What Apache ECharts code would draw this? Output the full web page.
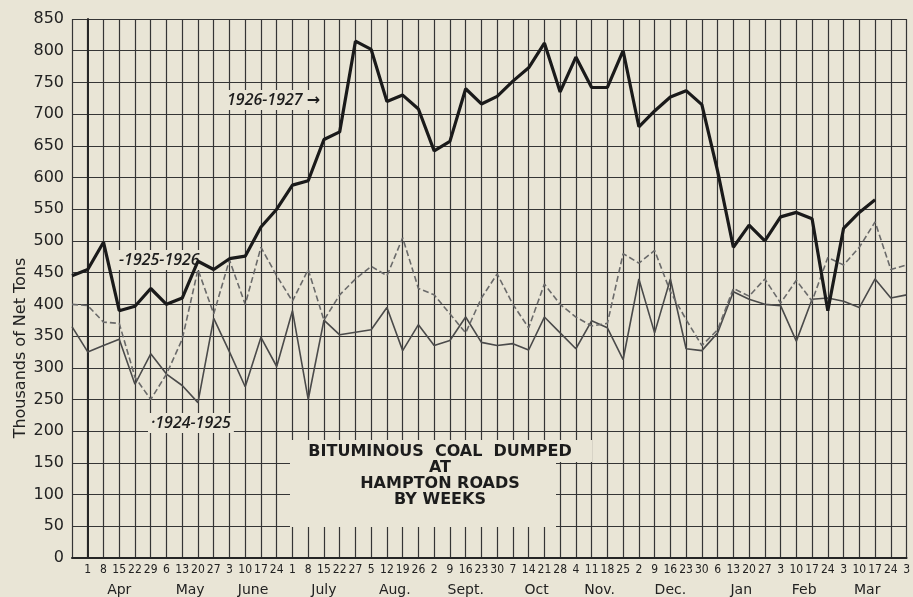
<!DOCTYPE html>
<html>
<head>
<meta charset="utf-8">
<script src="https://cdn.jsdelivr.net/npm/echarts@6/dist/echarts.min.js"></script>
<style>
  html, body { margin: 0; padding: 0; background: #e9e5d6; }
  #chart { width: 913px; height: 597px; }
</style>
</head>
<body>
<div id="chart"></div>
<script>
// week-ending day labels, Apr 1 1926 .. Apr 3 1927 (printed as on the original)
const weekDays = ['1','8','15','22','29','6','13','20','27','3','10','17','24',
  '1','8','15','22','27','5','12','19','26','2','9','16','23','30',
  '7','14','21','28','4','11','18','25','2','9','16','23','30',
  '6','13','20','27','3','10','17','24','3','10','17','24','3']
const monthNames = ['Apr','May','June','July','Aug.','Sept.','Oct','Nov.','Dec.','Jan','Feb','Mar']
const monthWeeks = [5, 4, 4, 5, 4, 5, 4, 4, 5, 4, 4, 4]

// thousands of net tons; first value sits on the y axis (week before Apr 1)
const s1926 = [445, 455, 498, 390, 397, 425, 400, 410, 468, 455, 472, 476, 522, 550,
  588, 595, 660, 672, 815, 802, 720, 730, 708, 642, 657, 740, 716, 728,
  752, 773, 812, 735, 790, 742, 742, 800, 680, 705, 727, 737, 715, 610,
  490, 525, 500, 538, 545, 535, 390, 520, 545, 565, null, null]
const s1925 = [400, 398, 372, 370, 285, 250, 290, 345, 455, 385, 470, 400, 490, 445,
  405, 455, 375, 415, 440, 460, 445, 505, 425, 415, 385, 355, 410, 448,
  400, 363, 432, 400, 380, 366, 370, 480, 465, 485, 420, 376, 335, 360,
  425, 413, 440, 402, 438, 405, 474, 462, 490, 530, 455, 462]
const s1924 = [365, 325, 335, 345, 274, 322, 290, 272, 245, 378, 325, 270, 348, 302,
  390, 250, 375, 352, 356, 360, 395, 327, 368, 335, 343, 380, 340, 335,
  338, 328, 380, 355, 330, 374, 363, 313, 440, 355, 440, 330, 327, 355,
  420, 408, 400, 398, 342, 408, 410, 405, 395, 440, 410, 415]

const bg = '#e9e5d6'
const ink = '#262626'
const gridInk = '#353535'

const toPoints = arr => arr.map((v, i) => [i - 1, v])

// centre of each month's group of weeks, in week-index units
const monthCenters = []
let start = 0
monthWeeks.forEach(n => {
  monthCenters.push(start + (n - 1) / 2)
  start += n
})

const chart = echarts.init(document.getElementById('chart'))

const labelFont = 'italic 600 16px "Open Sans", "DejaVu Sans", sans-serif'
const roundFont = '"DejaVu Sans", Lato, sans-serif'

const option = {
  backgroundColor: bg,
  animation: false,
  grid: { left: 72, right: 6, top: 19, bottom: 37 },
  xAxis: [
    {
      type: 'value',
      min: -1,
      max: 52,
      interval: 1,
      axisLine: { show: true, lineStyle: { color: ink, width: 2 } },
      axisTick: { show: false },
      splitLine: { show: true, lineStyle: { color: gridInk, width: 1.2 } },
      axisLabel: {
        margin: 6,
        color: '#222',
        fontSize: 12,
        fontFamily: '"Liberation Sans Narrow", "DejaVu Sans Condensed", "Roboto Condensed", Roboto, sans-serif',
        showMinLabel: true,
        showMaxLabel: true,
        formatter: v => (v < 0 ? '' : weekDays[v] || '')
      }
    },
    {
      type: 'value',
      min: -1,
      max: 52,
      position: 'bottom',
      offset: 17,
      axisLine: { show: false },
      axisTick: { show: false },
      splitLine: { show: false },
      axisLabel: {
        customValues: monthCenters,
        color: '#222',
        fontSize: 14,
        fontFamily: roundFont,
        formatter: v => monthNames[monthCenters.indexOf(v)] || ''
      }
    }
  ],
  yAxis: {
    type: 'value',
    min: 0,
    max: 850,
    interval: 50,
    axisLine: { show: true, lineStyle: { color: ink, width: 2 } },
    axisTick: { show: false },
    splitLine: { show: true, lineStyle: { color: gridInk, width: 1.2 } },
    axisLabel: {
      margin: 8,
      color: '#222',
      fontSize: 16,
      fontFamily: roundFont
    }
  },
  graphic: [
    {
      type: 'text', x: 21, y: 348, rotation: Math.PI / 2, z: 5,
      style: { text: 'Thousands of Net Tons', align: 'center', verticalAlign: 'middle',
        fill: '#222', font: '16px "DejaVu Sans", Lato, sans-serif' }
    },
    { type: 'rect', z: 1, shape: { x: 290, y: 440, width: 266, height: 87 }, style: { fill: bg } },
    { type: 'rect', z: 1, shape: { x: 556, y: 440, width: 36, height: 22 }, style: { fill: bg } },
    {
      type: 'text', x: 440, y: 444, z: 5,
      style: {
        text: 'BITUMINOUS  COAL  DUMPED\nAT\nHAMPTON ROADS\nBY WEEKS',
        align: 'center', verticalAlign: 'top', lineHeight: 16,
        fill: '#1c1c1c', font: 'bold 16px "DejaVu Sans", sans-serif'
      }
    },
    {
      type: 'text', x: 224, y: 100, z: 1,
      style: { text: '1926-1927 \u2192', align: 'left', verticalAlign: 'middle', fill: '#1c1c1c',
        font: labelFont, backgroundColor: bg, padding: [2, 3] }
    },
    {
      type: 'text', x: 116, y: 260, z: 1,
      style: { text: '-1925-1926', align: 'left', verticalAlign: 'middle', fill: '#1c1c1c',
        font: labelFont, backgroundColor: bg, padding: [2, 3] }
    },
    {
      type: 'text', x: 148, y: 423, z: 1,
      style: { text: '\u00b71924-1925', align: 'left', verticalAlign: 'middle', fill: '#1c1c1c',
        font: labelFont, backgroundColor: bg, padding: [2, 3] }
    }
  ],
  series: [
    {
      name: '1924-1925',
      type: 'line',
      data: toPoints(s1924),
      symbol: 'none',
      lineStyle: { color: '#4a4a4a', width: 1.6 },
      z: 3
    },
    {
      name: '1925-1926',
      type: 'line',
      data: toPoints(s1925),
      symbol: 'none',
      lineStyle: { color: '#6a6a6a', width: 1.6, type: [6, 3] },
      z: 3
    },
    {
      name: '1926-1927',
      type: 'line',
      data: toPoints(s1926),
      symbol: 'none',
      connectNulls: false,
      lineStyle: { color: '#1a1a1a', width: 3.2 },
      z: 4
    }
  ]
}

chart.setOption(option)
</script>
</body>
</html>
